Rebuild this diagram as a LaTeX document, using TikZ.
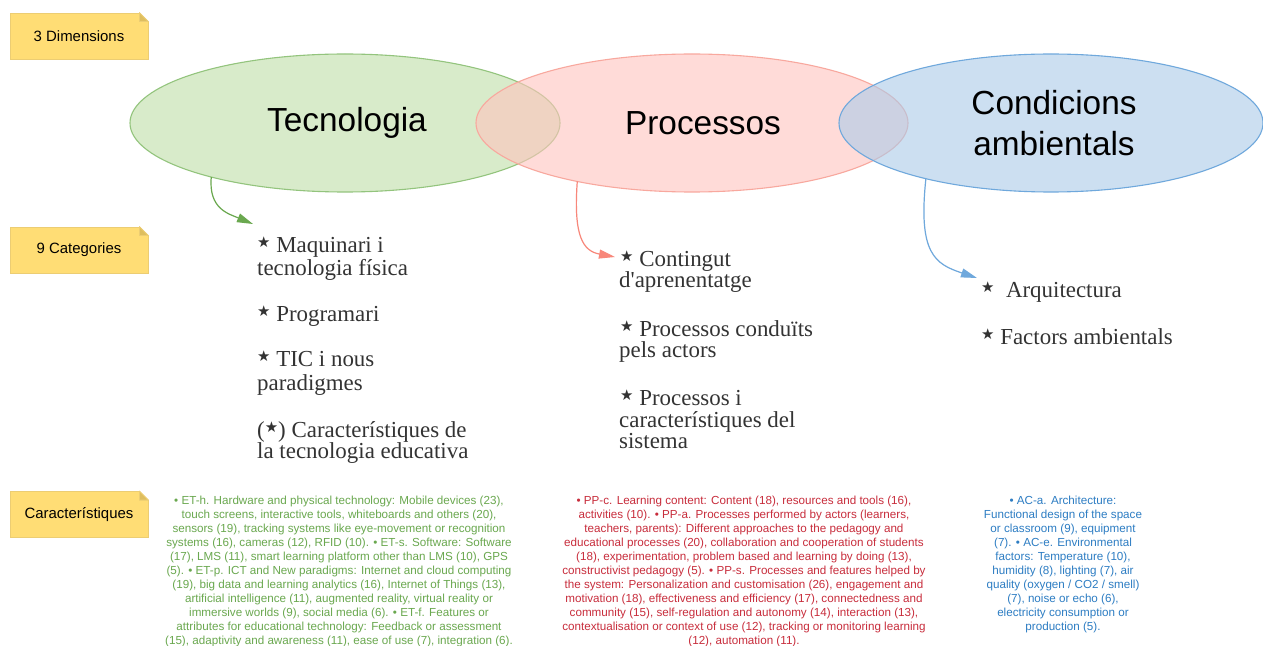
\documentclass[tikz,border=0pt]{standalone}
\usepackage{fontspec}
\setmainfont{Liberation Sans}
\newfontfamily\catfont{Liberation Serif}
\newfontfamily\symfont{DejaVu Sans}
\usetikzlibrary{shapes.geometric,arrows.meta}

% palette
\definecolor{tecFill}{RGB}{190,222,168}
\definecolor{tecLine}{RGB}{147,196,125}
\definecolor{tecArrow}{RGB}{106,168,79}
\definecolor{tecText}{RGB}{106,168,79}
\definecolor{procFill}{RGB}{255,196,190}
\definecolor{procLine}{RGB}{248,168,158}
\definecolor{procArrow}{RGB}{248,135,122}
\definecolor{procText}{RGB}{200,45,60}
\definecolor{condFill}{RGB}{170,203,233}
\definecolor{condLine}{RGB}{111,168,220}
\definecolor{condArrow}{RGB}{111,168,220}
\definecolor{condText}{RGB}{45,125,195}
\definecolor{catGray}{RGB}{51,51,51}
\definecolor{noteFill}{RGB}{255,221,117}
\definecolor{noteLine}{RGB}{236,205,115}
\definecolor{noteFold}{RGB}{222,190,95}

% small bullet star used in the category lists
\newcommand{\starmark}{\raisebox{5bp}{\symfont\fontsize{15}{15}\selectfont ★}}

\tikzset{
  dimension/.style={ellipse, minimum height=138bp, inner sep=0pt, outer sep=0pt,
    line width=1.1bp, fill opacity=0.6, text opacity=1, align=center,
    font=\fontsize{33.5}{41}\selectfont},
  notebox/.style={rectangle, minimum width=138bp, minimum height=46bp,
    fill=noteFill, draw=noteLine, line width=0.8bp, inner sep=0pt,
    font=\fontsize{15}{18}\selectfont},
  cattext/.style={anchor=base west, inner sep=0pt, text=catGray,
    font=\catfont\fontsize{23}{24}\selectfont},
  detail/.style={anchor=north, inner sep=0pt, align=center,
    font=\fontsize{11.7}{14}\selectfont},
  link/.style={line width=1.2bp, -{Triangle[length=16bp,width=9bp]}},
}

\begin{document}
\begin{tikzpicture}[x=1bp,y=-1bp]
\useasboundingbox (0,0) rectangle (1263,646);
\fill[white] (0,0) rectangle (1263,646);

% the three dimensions
\node[dimension, minimum width=430bp, fill=tecFill, draw=tecLine] (tec) at (345,123) {\hspace*{4bp}Tecnologia};
\node[dimension, minimum width=432bp, fill=procFill, draw=procLine] (proc) at (692,123) {\hspace*{22bp}Processos};
\node[dimension, minimum width=424bp, fill=condFill, draw=condLine] (cond) at (1051,123) {\hspace*{6bp}Condicions\\\hspace*{6bp}ambientals};

% sticky notes on the left
\node[notebox] (n1) at (79,36) {3 Dimensions};
\node[notebox] (n2) at (79,250) {9 Categories};
\node[notebox] (n3) at (79,514.5) {Característiques};
\foreach \n in {n1,n2,n3}{
  \fill[white] ([xshift=0.6bp,yshift=0.6bp]\n.north east) -- ++(-9.6,0) -- ++(9.6,9.6) -- cycle;
  \filldraw[fill=noteFold, draw=noteLine, line width=0.8bp, line join=round]
    ([xshift=-9bp]\n.north east) -- ++(0,9) -- ++(9,0) -- cycle;
}

% categories: Tecnologia
\node[cattext] (t1) at (257,253) {\starmark\ Maquinari i};
\node[cattext] (t2) at (257,276) {tecnologia física};
\node[cattext] (t3) at (257,322) {\starmark\ Programari};
\node[cattext] (t4) at (257,367) {\starmark\ TIC i nous};
\node[cattext] (t5) at (257,390) {paradigmes};
\node[cattext] (t6) at (257,437) {(\starmark) Característiques de};
\node[cattext] (t7) at (257,458) {la tecnologia educativa};

% categories: Processos
\node[cattext] (p1) at (620,267) {\starmark\ Contingut};
\node[cattext] (p2) at (619,288) {d'aprenentatge};
\node[cattext] (p3) at (620,337) {\starmark\ Processos conduïts};
\node[cattext] (p4) at (619,358) {pels actors};
\node[cattext] (p5) at (620,405) {\starmark\ Processos i};
\node[cattext] (p6) at (619,427) {característiques del};
\node[cattext] (p7) at (619,448) {sistema};

% categories: Condicions ambientals
\node[cattext] (c1) at (981,298) {\starmark\ \ Arquitectura};
\node[cattext] (c2) at (981,345) {\starmark\ Factors ambientals};

% curved links from each dimension to its categories
\coordinate (tecTip) at (253,224);
\coordinate (procTip) at (615,257);
\coordinate (condTip) at (977,278);
\draw[link, draw=tecArrow] (tec.202.6) .. controls +(-3,32) and +(-24,-10) .. (tecTip);
\draw[link, draw=procArrow] (proc.207.6) .. controls +(-4,55) and +(-32,-6) .. (procTip);
\draw[link, draw=condArrow] (cond.204) .. controls +(-8,75) and +(-42,-14) .. (condTip);

% characteristics
\node[detail, text=tecText] (dt) at (339,496) {%
• ET-h. Hardware and physical technology: Mobile devices (23),\\
touch screens, interactive tools, whiteboards and others (20),\\
sensors (19), tracking systems like eye-movement or recognition\\
systems (16), cameras (12), RFID (10). • ET-s. Software: Software\\
(17), LMS (11), smart learning platform other than LMS (10), GPS\\
(5). • ET-p. ICT and New paradigms: Internet and cloud computing\\
(19), big data and learning analytics (16), Internet of Things (13),\\
artificial intelligence (11), augmented reality, virtual reality or\\
immersive worlds (9), social media (6). • ET-f. Features or\\
attributes for educational technology: Feedback or assessment\\
(15), adaptivity and awareness (11), ease of use (7), integration (6).};

\node[detail, text=procText] (dp) at (744,496) {%
• PP-c. Learning content: Content (18), resources and tools (16),\\
activities (10). • PP-a. Processes performed by actors (learners,\\
teachers, parents): Different approaches to the pedagogy and\\
educational processes (20), collaboration and cooperation of students\\
(18), experimentation, problem based and learning by doing (13),\\
constructivist pedagogy (5). • PP-s. Processes and features helped by\\
the system: Personalization and customisation (26), engagement and\\
motivation (18), effectiveness and efficiency (17), connectedness and\\
community (15), self-regulation and autonomy (14), interaction (13),\\
contextualisation or context of use (12), tracking or monitoring learning\\
(12), automation (11).};

\node[detail, text=condText] (dc) at (1063,496) {%
• AC-a. Architecture:\\
Functional design of the space\\
or classroom (9), equipment\\
(7). • AC-e. Environmental\\
factors: Temperature (10),\\
humidity (8), lighting (7), air\\
quality (oxygen / CO2 / smell)\\
(7), noise or echo (6),\\
electricity consumption or\\
production (5).};
\end{tikzpicture}
\end{document}
